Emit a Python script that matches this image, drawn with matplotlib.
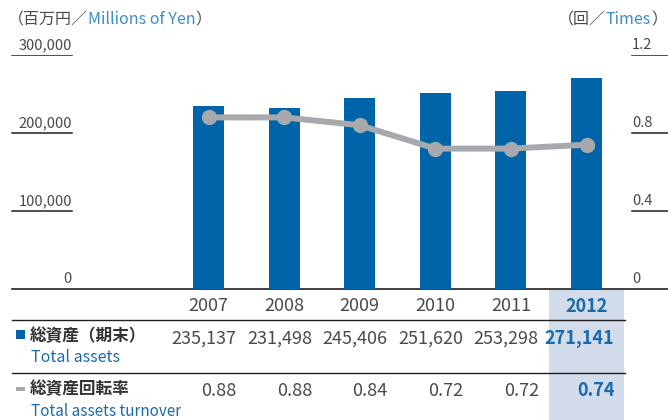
import matplotlib.pyplot as plt
import matplotlib.transforms as mtransforms
from matplotlib.patches import Rectangle

plt.rcParams['font.family'] = ['Noto Sans CJK JP', 'DejaVu Sans']

# --- data ---
years = ['2007', '2008', '2009', '2010', '2011', '2012']
total_assets = [235137, 231498, 245406, 251620, 253298, 271141]
turnover = [0.88, 0.88, 0.84, 0.72, 0.72, 0.74]
left_ticks = [0, 100000, 200000, 300000]
right_ticks = [0, 0.4, 0.8, 1.2]
right_labels = ['0', '0.4', '0.8', '1.2']

BLUE = '#0064a8'
TEXT_BLUE = '#1a6aae'
HEAD_BLUE = '#3b8ccb'
GRAY_LINE = '#a7a9ac'
TXT = '#4a4a4a'
DARK = '#231f20'
HILITE = '#d3dcea'

W, H = 668, 420
base_px, top_px = 289, 55

fig = plt.figure(figsize=(W / 100, H / 100), dpi=100)

# overlay in pixel coords for the table part
axo = fig.add_axes([0, 0, 1, 1], zorder=0)
axo.set_xlim(0, W)
axo.set_ylim(H, 0)
axo.axis('off')

ax = fig.add_axes([0, 1 - base_px / H, 1, (base_px - top_px) / H], zorder=1)
ax.patch.set_alpha(0)
ax.set_xlim(-2.758, 6.078)
ax.set_ylim(0, 300000)
ax.axis('off')
ax2 = ax.twinx()
ax2.set_ylim(0, 1.2)
ax2.axis('off')

x = list(range(len(years)))
ax.bar(x, total_assets, width=0.41, color=BLUE, zorder=2)
ax2.plot(x, turnover, color=GRAY_LINE, lw=4.3, marker='o', ms=10,
         markerfacecolor=GRAY_LINE, markeredgecolor=GRAY_LINE, zorder=3,
         solid_capstyle='butt')

# axis ticks: short lines with labels above
tl = mtransforms.blended_transform_factory(ax.transAxes, ax.transData)
tr = mtransforms.blended_transform_factory(ax2.transAxes, ax2.transData)
for v in left_ticks:
    if v > 0:
        ax.axhline(v, xmin=12 / W, xmax=72 / W, color=DARK, lw=1.1)
    ax.annotate(f'{v:,}', xy=(72 / W, v), xycoords=tl, xytext=(0, 2),
                textcoords='offset points', ha='right', va='bottom',
                fontsize=10.5, color=TXT, annotation_clip=False)
for v, lab in zip(right_ticks, right_labels):
    if v > 0:
        ax2.axhline(v, xmin=632 / W, xmax=1, color=DARK, lw=1.1)
    ax2.annotate(lab, xy=(632 / W, v), xycoords=tr, xytext=(0, 2),
                 textcoords='offset points', ha='left', va='bottom',
                 fontsize=10.5, color=TXT, annotation_clip=False)

# unit headers
hfs = 11.5
t1 = axo.text(8, 20, '（百万円／', ha='left', va='center', fontsize=hfs, color=TXT)
t2 = axo.annotate('Millions of Yen', xy=(1, 0), xycoords=t1, ha='left', va='bottom',
                  fontsize=hfs, color=HEAD_BLUE)
axo.annotate('）', xy=(1, 0), xycoords=t2, ha='left', va='bottom',
             fontsize=hfs, color=TXT)
r3 = axo.text(667, 20, '）', ha='right', va='center', fontsize=hfs, color=TXT)
r2 = axo.annotate('Times', xy=(0, 0), xycoords=r3, ha='right', va='bottom',
                  fontsize=hfs, color=HEAD_BLUE)
axo.annotate('（回／', xy=(0, 0), xycoords=r2, ha='right', va='bottom',
             fontsize=hfs, color=TXT)

# table
bt = mtransforms.blended_transform_factory(ax.transData, axo.transData)
axo.add_patch(Rectangle((len(years) - 1.5, base_px), 1.0, H - base_px,
                        transform=bt, facecolor=HILITE, edgecolor='none', zorder=0))
axo.plot([12, W], [base_px, base_px], color=DARK, lw=1.2, zorder=2)
axo.plot([12, 625], [320, 320], color=DARK, lw=1.0, zorder=2)
axo.plot([12, 625], [373, 373], color=DARK, lw=1.0, zorder=2)

last = len(years) - 1
off = 0.37
for i, yr in enumerate(years):
    hl = i == last
    c = TEXT_BLUE if hl else TXT
    fw = 'bold' if hl else 'normal'
    axo.text(i, 306, yr, transform=bt, ha='center', va='center',
             fontsize=13, color=c, fontweight=fw)
    axo.text(i + off, 339, f'{total_assets[i]:,}', transform=bt, ha='right',
             va='center', fontsize=13, color=c, fontweight=fw)
    axo.text(i + off, 391, f'{turnover[i]:.2f}', transform=bt, ha='right',
             va='center', fontsize=13, color=c, fontweight=fw)

# row labels
axo.add_patch(Rectangle((16, 330), 9, 9, facecolor=BLUE, edgecolor='none'))
axo.add_patch(Rectangle((16, 387), 9, 4, facecolor=GRAY_LINE, edgecolor='none'))
axo.text(30, 336, '総資産（期末）', ha='left', va='center', fontsize=12,
         fontweight='bold', color='#333333')
axo.text(31, 358, 'Total assets', ha='left', va='center', fontsize=11.5, color=TEXT_BLUE)
axo.text(30, 389, '総資産回転率', ha='left', va='center', fontsize=12,
         fontweight='bold', color='#333333')
axo.text(31, 411, 'Total assets turnover', ha='left', va='center', fontsize=11,
         color=TEXT_BLUE)

fig.savefig('out.png', dpi=100)
